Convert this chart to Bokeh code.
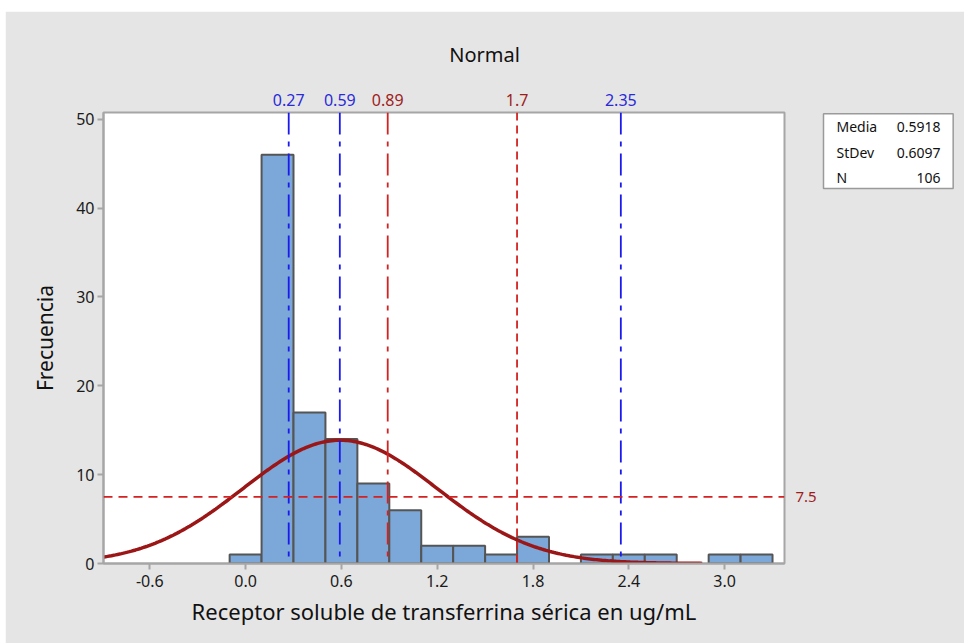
import numpy as np
from bokeh.plotting import figure
from bokeh.models import Range1d, FixedTicker, Span, Label, LinearAxis, ColumnDataSource
from bokeh.embed import file_html
from bokeh.resources import INLINE

# ---- data ----
bin_centers = [0.0, 0.2, 0.4, 0.6, 0.8, 1.0, 1.2, 1.4, 1.6, 1.8, 2.0, 2.2, 2.4, 2.6, 2.8, 3.0, 3.2]
counts      = [1,   46,  17,  14,  9,   6,   2,   2,   1,   3,   0,   1,   1,   1,   0,   1,   1]
bin_width = 0.2
stat_names = ["Media", "StDev", "N"]
stat_values = [0.5918, 0.6097, 106]
stat_texts = ["0.5918", "0.6097", "106"]
curve_x_range = [-0.89, 2.86]
blue_refs = [0.27, 0.59, 2.35]
blue_ref_labels = ["0.27", "0.59", "2.35"]
red_dashdot_refs = [0.89]
red_dashed_refs = [1.7]
red_ref_labels = ["0.89", "1.7"]
hline_value = 7.5
hline_label = "7.5"
x_ticks = [-0.6, 0.0, 0.6, 1.2, 1.8, 2.4, 3.0]
x_tick_labels = ["-0.6", "0.0", "0.6", "1.2", "1.8", "2.4", "3.0"]
y_ticks = [0, 10, 20, 30, 40, 50]
title_text = "Normal"
x_label = "Receptor soluble de transferrina sérica en ug/mL"
y_label = "Frecuencia"

FONT = "Noto Sans"
BLUE_LINE = "#1a1af0"
BLUE_TEXT = "#2a2ad8"
RED_LINE = "#d42222"
RED_TEXT = "#9e1c1c"
TXT = "#111111"

x0, x1 = -0.89, 3.375
y0, y1 = 0, 50.75
FL, FR, FT, FB = 103, 784, 112, 563   # frame pixel box in the page

p = figure(width=959, height=632, output_backend="svg", toolbar_location=None,
           x_range=Range1d(x0, x1), y_range=Range1d(y0, y1),
           min_border_left=FL - 5, min_border_right=964 - FR, min_border_top=FT - 11,
           min_border_bottom=643 - FB)
p.margin = (11, 0, 0, 5)
p.border_fill_color = "#e5e5e5"
p.background_fill_color = "white"
p.outline_line_color = "#a6a6a6"
p.outline_line_width = 2
p.grid.visible = False
xa = p.below[0]
ya = p.left[0]

def dx(px):
    return x0 + (px - FL) * (x1 - x0) / (FR - FL)
def dy(py):
    return y0 + (FB - py) * (y1 - y0) / (FB - FT)

# bars
bx = [c for c, n in zip(bin_centers, counts) if n > 0]
bn = [n for n in counts if n > 0]
src = ColumnDataSource(dict(left=[c - bin_width / 2 for c in bx], right=[c + bin_width / 2 for c in bx],
                            top=bn, bottom=[0] * len(bn)))
p.quad(left="left", right="right", top="top", bottom="bottom", source=src,
       fill_color="#7ba7d9", line_color="#555555", line_width=2)

# fitted normal curve (from the stated mean, stdev and N)
mu, sd, n = stat_values
xs = np.linspace(curve_x_range[0], curve_x_range[1], 300)
ys = n * bin_width * np.exp(-0.5 * ((xs - mu) / sd) ** 2) / (sd * np.sqrt(2 * np.pi))
p.line(xs, ys, line_color="#9b1616", line_width=3.5)

# reference lines
for v in blue_refs:
    p.add_layout(Span(location=v, dimension="height", line_color=BLUE_LINE, line_width=1.8,
                      line_dash="22 7 5 7"))
for v in red_dashdot_refs:
    p.add_layout(Span(location=v, dimension="height", line_color=RED_LINE, line_width=1.8,
                      line_dash="22 7 5 7"))
for v in red_dashed_refs:
    p.add_layout(Span(location=v, dimension="height", line_color=RED_LINE, line_width=1.8,
                      line_dash="8 5"))
p.add_layout(Span(location=hline_value, dimension="width", line_color=RED_LINE, line_width=1.8,
                  line_dash="9 6"))

# axes
for ax in (xa, ya):
    ax.axis_line_color = "#a6a6a6"
    ax.axis_line_width = 2
    ax.major_tick_line_color = "#a6a6a6"
    ax.major_tick_line_width = 2
    ax.major_tick_in = 0
    ax.major_tick_out = 6
    ax.minor_tick_line_color = None
    ax.major_label_text_font = FONT
    ax.major_label_text_font_size = "16px"
    ax.major_label_text_color = "#1a1a1a"
    ax.axis_label_text_font = FONT
    ax.axis_label_text_font_style = "normal"
    ax.axis_label_text_color = TXT

xa.ticker = FixedTicker(ticks=x_ticks)
xa.major_label_overrides = {t: l for t, l in zip(x_ticks, x_tick_labels)}
xa.axis_label = x_label
xa.axis_label_text_font_size = "22px"
xa.major_label_standoff = 5
xa.axis_label_standoff = 6
ya.ticker = FixedTicker(ticks=y_ticks)
ya.axis_label = y_label
ya.axis_label_text_font_size = "21px"
ya.major_label_standoff = 3
ya.axis_label_standoff = 14

# blue reference values: an axis above the frame
top_axis = LinearAxis(ticker=FixedTicker(ticks=blue_refs),
                      major_label_overrides={v: l for v, l in zip(blue_refs, blue_ref_labels)},
                      axis_line_color=None, major_tick_line_color=None, minor_tick_line_color=None,
                      major_tick_out=0, major_tick_in=0, major_label_standoff=7,
                      major_label_text_color=BLUE_TEXT, major_label_text_font=FONT,
                      major_label_text_font_size="16px")
p.add_layout(top_axis, "above")

# red reference values, title (labels in side panels, placed in data units)
for v, l in zip(red_dashdot_refs + red_dashed_refs, red_ref_labels):
    p.add_layout(Label(x=v, y=y1, y_offset=7, text=l, text_align="center", text_baseline="bottom",
                       text_color=RED_TEXT, text_font=FONT, text_font_size="16px"), "above")
p.add_layout(Label(x=dx(484), y=y1, y_offset=45, text=title_text, text_align="center",
                   text_baseline="bottom", text_color=TXT, text_font=FONT, text_font_size="20px"),
             "above")
p.add_layout(Label(x=x1, x_offset=11, y=hline_value, text=hline_label, text_align="left",
                   text_baseline="middle", text_color=RED_TEXT, text_font=FONT,
                   text_font_size="15px"), "left")

# stats box
p.add_layout(Label(x=dx(823), y=dy(188), text="\n".join(stat_names), text_align="left",
                   text_baseline="bottom", text_font=FONT, text_font_size="14px", text_color=TXT,
                   text_line_height=1.36,
                   background_fill_color="white", border_line_color="#9a9a9a",
                   border_line_width=1.5, padding=(13, 76, 3, 1)), "right")
p.add_layout(Label(x=dx(940), y=dy(187), text="\n".join(stat_texts), text_align="right",
                   text_baseline="bottom", text_font=FONT, text_font_size="14px", text_color=TXT,
                   text_line_height=1.36), "right")

open("out.html", "w").write(file_html(p, INLINE))
